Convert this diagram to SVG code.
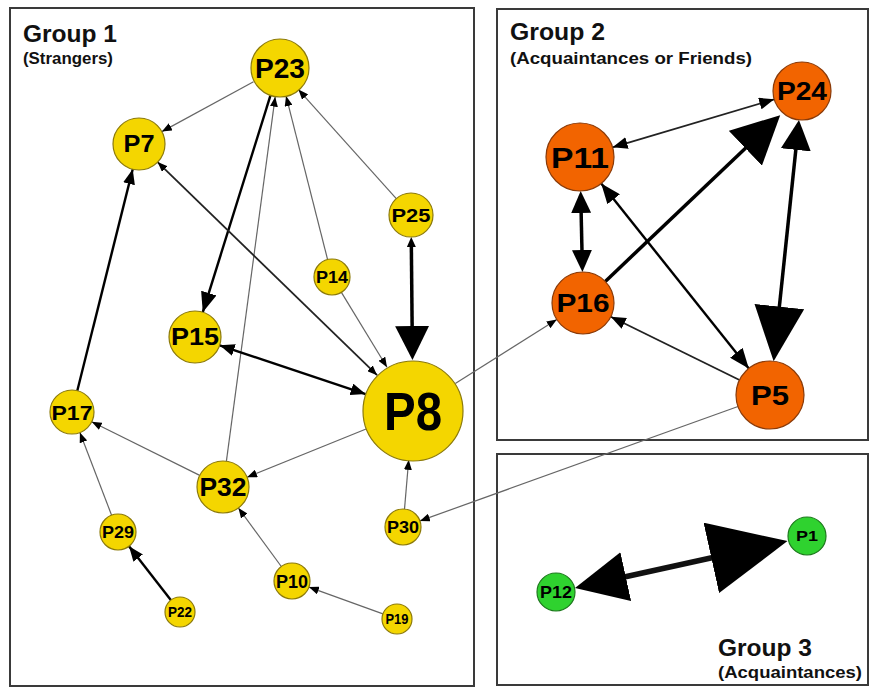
<svg xmlns="http://www.w3.org/2000/svg" width="870" height="687" viewBox="0 0 870 687">
<style>
.box{fill:none;stroke:#3a3a3a;stroke-width:2}
.ttl{font-family:"Liberation Sans",Arial,sans-serif;font-weight:bold;fill:#111}
.lbl{font-family:"Liberation Sans",Arial,sans-serif;font-weight:bold;fill:#000;text-anchor:middle}
.y{fill:#F4D600;stroke:#8C7A0A;stroke-width:1.2}
.o{fill:#F26400;stroke:#8A3A08;stroke-width:1.2}
.g{fill:#2FD22F;stroke:#1E7A1E;stroke-width:1.2}
.e{fill:none;stroke:#111}
.t{stroke:#666;stroke-width:1.2}
.m{stroke:#222;stroke-width:1.8}
.k{stroke:#000;stroke-width:2.4}
.h{stroke:#000;stroke-width:3.5}
marker path{fill:#000}
</style>
<defs>
<marker id="s" viewBox="0 0 10 8" refX="10" refY="4" markerWidth="10" markerHeight="8" markerUnits="userSpaceOnUse" orient="auto-start-reverse"><path d="M0,0L10,4L0,8z"/></marker>
<marker id="mk" viewBox="0 0 15 12" refX="15" refY="6" markerWidth="15" markerHeight="12" markerUnits="userSpaceOnUse" orient="auto-start-reverse"><path d="M0,0L15,6L0,12z"/></marker>
<marker id="m2" viewBox="0 0 20 16" refX="20" refY="8" markerWidth="20" markerHeight="16" markerUnits="userSpaceOnUse" orient="auto-start-reverse"><path d="M0,0L20,8L0,16z"/></marker>
<marker id="sh" viewBox="0 0 10 9" refX="5" refY="4.5" markerWidth="10" markerHeight="9" markerUnits="userSpaceOnUse" orient="auto-start-reverse"><path d="M0,0L10,4.5L0,9z"/></marker>
<marker id="lh" viewBox="0 0 22 20" refX="11" refY="10" markerWidth="22" markerHeight="20" markerUnits="userSpaceOnUse" orient="auto-start-reverse"><path d="M0,0L22,10L0,20z"/></marker>
<marker id="p24h" viewBox="0 0 30 30" refX="15" refY="15" markerWidth="30" markerHeight="30" markerUnits="userSpaceOnUse" orient="auto-start-reverse"><path d="M0,0L30,15L0,30z"/></marker>
<marker id="xlh" viewBox="0 0 34 34" refX="17" refY="17" markerWidth="34" markerHeight="34" markerUnits="userSpaceOnUse" orient="auto-start-reverse"><path d="M0,0L34,17L0,34z"/></marker>
<marker id="xxh" viewBox="0 0 48 48" refX="24" refY="24" markerWidth="48" markerHeight="48" markerUnits="userSpaceOnUse" orient="auto-start-reverse"><path d="M0,0L48,24L0,48z"/></marker>
<marker id="p5h" viewBox="0 0 55 50" refX="27.5" refY="25" markerWidth="55" markerHeight="50" markerUnits="userSpaceOnUse" orient="auto-start-reverse"><path d="M0,0L55,25L0,50z"/></marker>
<marker id="p1h" viewBox="0 0 78 72" refX="39" refY="36" markerWidth="78" markerHeight="72" markerUnits="userSpaceOnUse" orient="auto-start-reverse"><path d="M0,0L78,36L0,72z"/></marker>
<marker id="p12h" viewBox="0 0 52 50" refX="26" refY="25" markerWidth="52" markerHeight="50" markerUnits="userSpaceOnUse" orient="auto-start-reverse"><path d="M0,0L52,25L0,50z"/></marker>
</defs>
<rect width="870" height="687" fill="#fff"/>
<g id="groups">
<rect class="box" x="10" y="8" width="464" height="678"/>
<rect class="box" x="497" y="9" width="371" height="431"/>
<rect class="box" x="497" y="454" width="371" height="231"/>
<text class="ttl" x="23" y="42" font-size="23" textLength="94" lengthAdjust="spacingAndGlyphs">Group 1</text>
<text class="ttl" x="23" y="64" font-size="16.5" textLength="90" lengthAdjust="spacingAndGlyphs">(Strangers)</text>
<text class="ttl" x="510" y="40" font-size="23" textLength="95" lengthAdjust="spacingAndGlyphs">Group 2</text>
<text class="ttl" x="510" y="64" font-size="16.5" textLength="242" lengthAdjust="spacingAndGlyphs">(Acquaintances or Friends)</text>
<text class="ttl" x="718" y="656" font-size="23" textLength="94" lengthAdjust="spacingAndGlyphs">Group 3</text>
<text class="ttl" x="718" y="678" font-size="16.5" textLength="144" lengthAdjust="spacingAndGlyphs">(Acquaintances)</text>
</g>
<g id="connectors">
<path class="e t" d="M253.5,81.8L161.9,131.6" marker-end="url(#s)"/>
<path class="e k" d="M270.4,95.7L202.8,312.2" marker-end="url(#m2)"/>
<path class="e t" d="M226.4,461.2L275.2,96.7" marker-end="url(#s)"/>
<path class="e t" d="M327.6,259.6L286.1,96.1" marker-end="url(#s)"/>
<path class="e t" d="M396.3,198.6L298.4,89.6" marker-end="url(#s)"/>
<path class="e m" d="M157.6,162.1L377.1,375.2" marker-start="url(#s)" marker-end="url(#s)"/>
<path class="e t" d="M341.4,292.4L387,367.3" marker-end="url(#s)"/>
<path class="e h" d="M411.3,242L412.3,343" marker-start="url(#sh)" marker-end="url(#xlh)"/>
<path class="e k" d="M219.7,345.3L365.6,394.1" marker-start="url(#mk)" marker-end="url(#mk)"/>
<path class="e k" d="M77.3,390.7L132.7,169.2" marker-end="url(#mk)"/>
<path class="e t" d="M199.7,475.4L91.7,421.8" marker-end="url(#s)"/>
<path class="e t" d="M366.7,428.8L247.1,477.2" marker-end="url(#s)"/>
<path class="e t" d="M111.6,515.2L79.9,432.5" marker-end="url(#s)"/>
<path class="e k" d="M170.8,600.1L129,546.2" marker-end="url(#mk)"/>
<path class="e t" d="M281.3,566.5L238.4,508" marker-end="url(#s)"/>
<path class="e t" d="M382.9,613.9L308.9,587.1" marker-end="url(#s)"/>
<path class="e t" d="M404.5,509.1L408.7,459.8" marker-end="url(#s)"/>
<path class="e t" d="M738,406.5L419.9,520.9" marker-end="url(#s)"/>
<path class="e t" d="M455.3,383.4L556.8,319.5" marker-end="url(#s)"/>
<path class="e m" d="M612.6,147.3L774.2,99.3" marker-start="url(#mk)" marker-end="url(#mk)"/>
<path class="e h" d="M605.3,281.4L762.8,131.7" marker-end="url(#xxh)"/>
<path class="e h" d="M580.9,202L582.2,261" marker-start="url(#lh)" marker-end="url(#lh)"/>
<path class="e k" d="M601.2,183.6L748.8,368.4" marker-start="url(#m2)" marker-end="url(#m2)"/>
<path class="e m" d="M739.5,380L610.8,316.7" marker-end="url(#mk)"/>
<path class="e h" d="M797.4,134.9L776.5,333.9" marker-start="url(#p24h)" marker-end="url(#p5h)"/>
<path class="e" stroke-width="5.5" d="M600.4,582.3L749.4,549.5" marker-start="url(#p12h)" marker-end="url(#p1h)"/>
</g>
<g id="P23"><circle class="y" cx="280" cy="68" r="29"/><text class="lbl" x="280" y="77.7" font-size="27" textLength="50" lengthAdjust="spacingAndGlyphs">P23</text></g>
<g id="P7"><circle class="y" cx="139" cy="144" r="26"/><text class="lbl" x="139" y="152.2" font-size="23" textLength="31" lengthAdjust="spacingAndGlyphs">P7</text></g>
<g id="P25"><circle class="y" cx="411" cy="215" r="22"/><text class="lbl" x="411" y="221.8" font-size="19" textLength="39" lengthAdjust="spacingAndGlyphs">P25</text></g>
<g id="P14"><circle class="y" cx="332" cy="277" r="18"/><text class="lbl" x="332" y="283" font-size="17" textLength="32" lengthAdjust="spacingAndGlyphs">P14</text></g>
<g id="P15"><circle class="y" cx="195" cy="337" r="26"/><text class="lbl" x="195" y="345.2" font-size="23" textLength="48" lengthAdjust="spacingAndGlyphs">P15</text></g>
<g id="P8"><circle class="y" cx="413" cy="411" r="50"/><text class="lbl" x="413" y="430" font-size="53" textLength="58" lengthAdjust="spacingAndGlyphs">P8</text></g>
<g id="P17"><circle class="y" cx="72" cy="412" r="22"/><text class="lbl" x="72" y="419.5" font-size="21" textLength="41" lengthAdjust="spacingAndGlyphs">P17</text></g>
<g id="P32"><circle class="y" cx="223" cy="487" r="26"/><text class="lbl" x="223" y="496" font-size="25" textLength="47" lengthAdjust="spacingAndGlyphs">P32</text></g>
<g id="P29"><circle class="y" cx="118" cy="532" r="18"/><text class="lbl" x="118" y="538" font-size="17" textLength="32" lengthAdjust="spacingAndGlyphs">P29</text></g>
<g id="P22"><circle class="y" cx="180" cy="612" r="15"/><text class="lbl" x="180" y="617.4" font-size="15" textLength="24" lengthAdjust="spacingAndGlyphs">P22</text></g>
<g id="P10"><circle class="y" cx="292" cy="581" r="18"/><text class="lbl" x="292" y="587.5" font-size="18" textLength="32" lengthAdjust="spacingAndGlyphs">P10</text></g>
<g id="P19"><circle class="y" cx="397" cy="619" r="15"/><text class="lbl" x="397" y="624.4" font-size="15" textLength="23" lengthAdjust="spacingAndGlyphs">P19</text></g>
<g id="P30"><circle class="y" cx="403" cy="527" r="18"/><text class="lbl" x="403" y="533" font-size="17" textLength="32" lengthAdjust="spacingAndGlyphs">P30</text></g>
<g id="P24"><circle class="o" cx="802" cy="91" r="29"/><text class="lbl" x="802" y="100" font-size="25" textLength="50" lengthAdjust="spacingAndGlyphs">P24</text></g>
<g id="P11"><circle class="o" cx="580" cy="157" r="34"/><text class="lbl" x="580" y="167.7" font-size="30" textLength="58" lengthAdjust="spacingAndGlyphs">P11</text></g>
<g id="P16"><circle class="o" cx="583" cy="303" r="31"/><text class="lbl" x="583" y="312" font-size="25" textLength="53" lengthAdjust="spacingAndGlyphs">P16</text></g>
<g id="P5"><circle class="o" cx="770" cy="395" r="34"/><text class="lbl" x="770" y="405" font-size="28" textLength="38" lengthAdjust="spacingAndGlyphs">P5</text></g>
<g id="P1"><circle class="g" cx="807" cy="536" r="19"/><text class="lbl" x="807" y="541.4" font-size="15" textLength="22" lengthAdjust="spacingAndGlyphs">P1</text></g>
<g id="P12"><circle class="g" cx="556" cy="592" r="19"/><text class="lbl" x="556" y="598" font-size="17" textLength="32" lengthAdjust="spacingAndGlyphs">P12</text></g>
</svg>
